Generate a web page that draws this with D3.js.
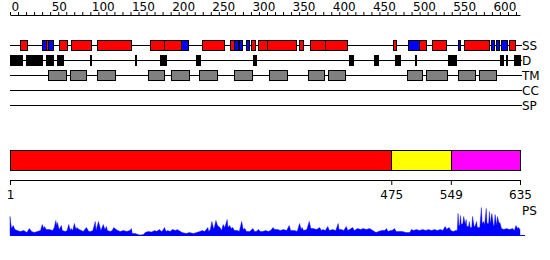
<!DOCTYPE html>
<html><head><meta charset="utf-8">
<script src="https://cdn.jsdelivr.net/npm/d3@7/dist/d3.min.js"></script>
<style>body{margin:0;background:#fff} svg text{font-family:"DejaVu Sans";font-size:12px;fill:#000}</style>
</head><body><svg id="c" width="550" height="260"></svg>
<script>
// ---------- data ----------
const seqLength = 635;
const rulerTicks = d3.range(0, 631, 10);
const rulerLabels = [0, 50, 100, 150, 200, 250, 300, 350, 400, 450, 500, 550, 600];
const trackNames = ["SS", "D", "TM", "CC", "SP"];
// secondary structure: [start, end, type] H = helix (red), E = strand (blue)
const ssSegments = [
  [14,22,"H"],[41,46,"E"],[46,48,"H"],[48,55,"E"],[62,72,"H"],[77,102,"H"],[109,152,"H"],
  [175,192,"H"],[192,214,"H"],[214,222,"E"],[240,267,"H"],[274,279,"H"],[279,284,"E"],
  [284,286,"H"],[286,290,"E"],[294,298,"E"],[301,305,"H"],[309,320,"H"],[320,356,"H"],
  [360,365,"H"],[374,392,"H"],[392,420,"H"],[477,481,"H"],[496,509,"E"],[509,518,"H"],
  [526,543,"H"],[558,561,"E"],[565,596,"H"],[599,603,"E"],[605,609,"E"],[612,619,"E"],[621,629,"H"]
];
// disorder: [start, end]
const disorderSegments = [
  [1,16],[21,41],[46,49],[51,55],[60,67],[100,102],[156,158],[187,191],[193,195],[232,237],
  [303,307],[422,427],[453,458],[479,486],[504,506],[545,556],[610,614],[617,618],[627,635]
];
// transmembrane: [start, end]
const tmSegments = [
  [48,70],[75,96],[109,131],[172,193],[201,224],[236,258],[279,302],[323,345],[372,391],
  [396,418],[494,513],[518,544],[558,579],[584,605]
];
const ccSegments = [];
const spSegments = [];
// domain bar: [start, end, colour]
const domainSegments = [[1,475,"#ff0000"],[475,549,"#ffff00"],[549,635,"#ff00ff"]];
const domainTicks = [1, 475, 549, 635];
// PS profile: [residue, score]
const psProfile = [
[1,19],[2,12],[3,7],[5,10],[7,6],[10,5],[14,4],[18,5],[22,3],[25,7],[28,4],[31,3],[35,4],[39,5],[41,11],[43,7],[44,9],[46,6],[50,6],[54,5],[56,8],[58,15],[59,10],[60,13],[62,6],[65,10],[66,5],[70,4],[72,5],[74,11],[76,5],[77,7],[79,5],[81,12],[83,6],[84,8],[87,6],[90,5],[92,4],[96,8],[99,4],[101,4],[104,5],[107,14],[108,5],[111,14],[114,5],[117,11],[119,6],[121,9],[122,5],[126,4],[128,5],[130,8],[133,6],[135,5],[138,4],[142,5],[146,4],[150,5],[152,7],[153,2],[157,2],[160,1],[163,0.5],[167,1],[169,3],[173,4],[177,3.5],[181,5],[183,4],[187,6],[189,4],[191,5],[193,8],[195,4],[197,5],[200,4],[203,6],[207,5],[209,6],[213,4],[215,3],[220,2],[224,3],[229,2],[233,3],[237,4],[240,5],[243,4],[247,8],[248,4],[250,6],[252,14],[254,7],[255,8],[257,15],[259,10],[262,8],[264,5],[266,11],[268,8],[271,16],[272,8],[274,10],[276,7],[278,8],[280,5],[284,5],[286,4],[289,14],[291,6],[293,7],[295,4],[299,4],[303,7],[305,4],[307,4],[310,6],[312,4],[315,4],[319,5],[322,4],[325,5],[328,8],[330,6],[334,6],[337,5],[341,6],[345,5],[348,10],[350,5],[355,5],[358,4],[361,12],[363,6],[364,8],[366,5],[370,6],[373,14],[375,7],[378,7],[382,6],[386,8],[388,5],[390,6],[393,5],[396,9],[398,5],[402,6],[406,5],[409,12],[410,6],[413,6],[416,5],[419,9],[421,5],[423,6],[427,8],[429,5],[433,7],[437,6],[440,7],[444,6],[448,7],[452,5],[456,3],[459,4],[463,5],[467,5],[469,7],[471,4],[474,5],[476,5],[479,7],[481,4],[484,4],[489,4],[493,3],[498,3],[500,6],[503,5],[506,6],[510,5],[514,6],[518,5],[521,6],[525,5],[529,6],[532,5],[536,6],[539,5],[542,9],[544,6],[545,7],[547,8],[549,5],[552,4],[555,5],[557,5],[558,22],[559,10],[560,10],[561,20],[562,11],[564,12],[565,19],[567,11],[568,16],[569,9],[571,9],[572,14],[573,8],[575,8],[576,19],[578,9],[579,9],[581,14],[582,8],[585,8],[587,28],[588,12],[590,14],[591,10],[593,27],[594,12],[596,12],[597,24],[598,12],[600,22],[602,10],[603,10],[604,21],[606,10],[607,19],[609,12],[610,13],[612,7],[615,6],[618,7],[622,6],[626,7],[628,5],[630,10],[632,7],[633,8],[635,6]
];
const psMax = 30;

// ---------- drawing ----------
const svg = d3.select("#c");
const x = d3.scaleLinear().domain([1, seqLength]).range([10, 520]);
const xRuler = d3.scaleLinear().domain([0, seqLength]).range([10, 520]);
const trackY = d3.scalePoint().domain(trackNames).range([45, 105]);
const ssColor = d3.scaleOrdinal().domain(["H","E"]).range(["#ff0000","#0000ff"]);
const px = v => Math.round(x(v));

// ruler
const ruler = svg.append("g").attr("transform", "translate(0,15)")
  .call(d3.axisTop(xRuler).tickValues(rulerTicks).tickSize(3).tickSizeOuter(0)
    .tickFormat(d => rulerLabels.includes(d) ? d : ""));
ruler.attr("font-family", null).attr("font-size", null);
ruler.selectAll("path,line").attr("stroke", "#000");
ruler.selectAll("text").attr("text-anchor", "start").attr("dx", 1).attr("y", -4).attr("dy", 0);

// tracks
const trackData = {
  SS: ssSegments.map(d => ({s: d[0], e: d[1], fill: ssColor(d[2])})),
  D: disorderSegments.map(d => ({s: d[0], e: d[1], fill: "#000"})),
  TM: tmSegments.map(d => ({s: d[0], e: d[1], fill: "#808080"})),
  CC: ccSegments.map(d => ({s: d[0], e: d[1], fill: "#00ff00"})),
  SP: spSegments.map(d => ({s: d[0], e: d[1], fill: "#ffa500"}))
};
trackNames.forEach(name => {
  const cy = trackY(name);
  const g = svg.append("g");
  g.append("line").attr("x1", x(1)).attr("x2", x(seqLength) + 2)
    .attr("y1", cy + 0.5).attr("y2", cy + 0.5).attr("stroke", "#000");
  g.selectAll("rect").data(trackData[name]).join("rect")
    .attr("x", d => px(d.s) + 0.5).attr("width", d => Math.max(1, px(d.e) - px(d.s)))
    .attr("y", cy - 4.5).attr("height", 10)
    .attr("fill", d => d.fill).attr("stroke", "#000");
  g.append("text").attr("x", x(seqLength) + 2).attr("y", cy + 5).text(name);
});

// domain bar
svg.append("g").selectAll("rect").data(domainSegments).join("rect")
  .attr("x", d => px(d[0]) + 0.5).attr("width", d => px(d[1]) - px(d[0]))
  .attr("y", 150.5).attr("height", 20)
  .attr("fill", d => d[2]).attr("stroke", "#000");

const bottomAxis = svg.append("g").attr("transform", "translate(0,180)")
  .call(d3.axisBottom(x).tickValues(domainTicks).tickSize(5).tickSizeOuter(0).tickFormat(d => d));
bottomAxis.attr("font-family", null).attr("font-size", null);
bottomAxis.selectAll("path,line").attr("stroke", "#000");
bottomAxis.selectAll("text").attr("y", 19).attr("dy", 0);

// PS profile
const yPS = d3.scaleLinear().domain([0, psMax]).range([235.5, 205.5]);
const area = d3.area().x(d => x(d[0])).y0(yPS(0)).y1(d => yPS(d[1]));
svg.append("line").attr("x1", x(1)).attr("x2", x(seqLength) + 5)
  .attr("y1", yPS(0)).attr("y2", yPS(0)).attr("stroke", "#0000ff");
svg.append("path").datum(psProfile).attr("d", area)
  .attr("fill", "#0000ff").attr("stroke", "#0000ff").attr("stroke-width", 0.4);
svg.append("text").attr("x", x(seqLength) + 2).attr("y", 215).text("PS");
</script></body></html>
